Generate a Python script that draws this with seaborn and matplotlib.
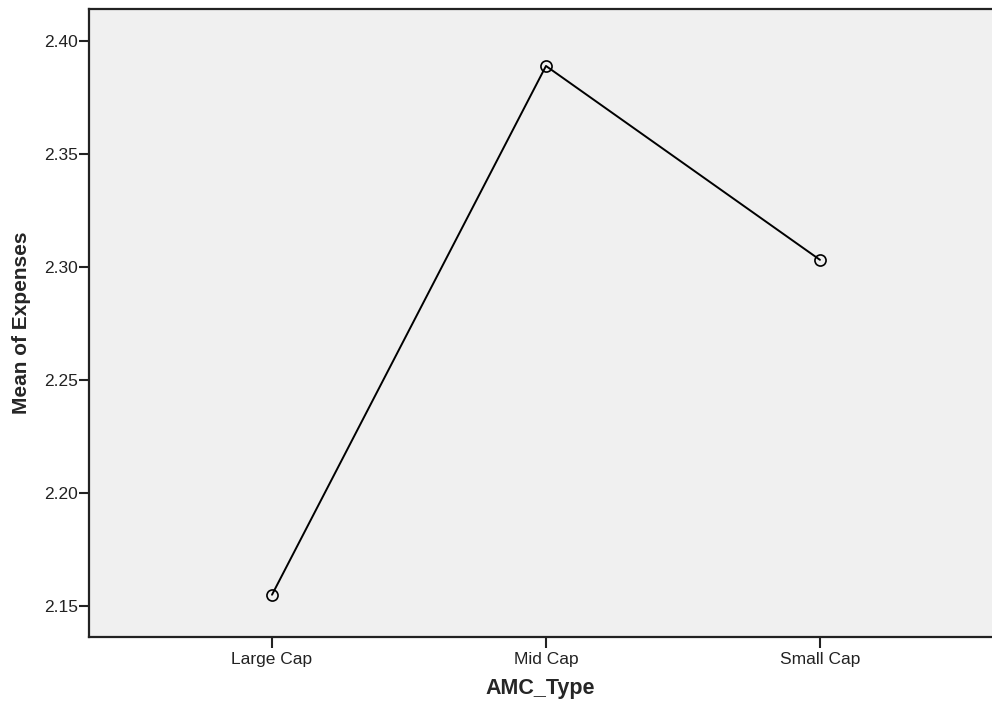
import numpy as np
import pandas as pd
import matplotlib
matplotlib.use("Agg")
import matplotlib.pyplot as plt
import seaborn as sns

# category labels and means
amc_types = ['Large Cap', 'Mid Cap', 'Small Cap']
mean_expenses = [2.1550, 2.3890, 2.3032]
y_ticks = [2.15, 2.20, 2.25, 2.30, 2.35, 2.40]

df = pd.DataFrame({'AMC_Type': amc_types, 'Expenses': mean_expenses})

sns.set_style('white')
plt.rcParams['font.family'] = ['Liberation Sans', 'DejaVu Sans']

fig = plt.figure(figsize=(9.92, 7.07), dpi=100)
ax = fig.add_axes([89 / 992, 70 / 707, 1 - 89 / 992, (637 - 9) / 707])
ax.set_facecolor('#f0f0f0')

sns.pointplot(data=df, x='AMC_Type', y='Expenses', order=amc_types, ax=ax,
              color='black', markers='o', linestyles='-', errorbar=None,
              markersize=8, markerfacecolor='none', markeredgewidth=1.2,
              linewidth=1.4)

ax.set_xlim(-0.668, 2.628)
ax.set_ylim(2.1363, 2.4142)
ax.set_yticks(y_ticks)
ax.set_yticklabels([f'{t:.2f}' for t in y_ticks])

for side in ['left', 'top', 'bottom']:
    ax.spines[side].set_visible(True)
    ax.spines[side].set_color('#222222')
    ax.spines[side].set_linewidth(1.6)
ax.spines['right'].set_visible(False)

ax.tick_params(axis='both', which='major', direction='out', color='#222222',
               width=1.5, labelsize=12.5, labelcolor='#222222')
ax.tick_params(axis='y', length=7, pad=1, left=True)
ax.tick_params(axis='x', length=8, pad=3, bottom=True)

ax.set_xlabel('AMC_Type', fontsize=15.5, fontweight='bold', labelpad=8)
ax.set_ylabel('Mean of Expenses', fontsize=15, fontweight='bold', labelpad=9)

fig.savefig('out.png', dpi=100, facecolor='white')
